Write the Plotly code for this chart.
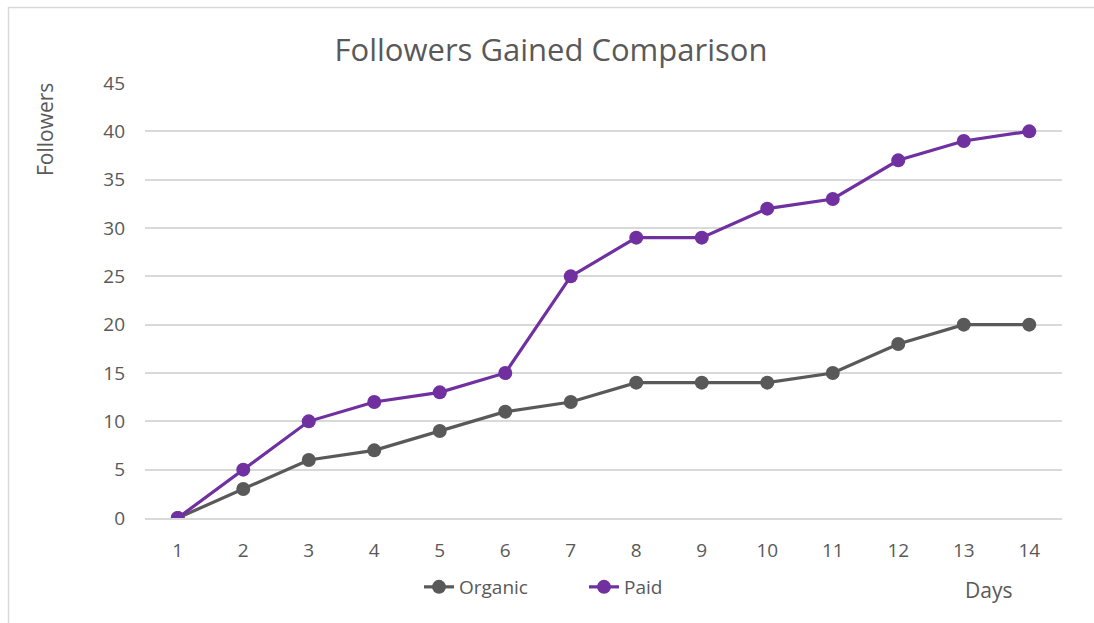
import plotly.graph_objects as go

days = [str(d) for d in range(1, 15)]
organic = [0, 3, 6, 7, 9, 11, 12, 14, 14, 14, 15, 18, 20, 20]
paid = [0, 5, 10, 12, 13, 15, 25, 29, 29, 32, 33, 37, 39, 40]
y_ticks = [0, 5, 10, 15, 20, 25, 30, 35, 40, 45]

W, H = 1094, 623
L, R, T, B = 145, 32, 83, 105
pw, ph = W - L - R, H - T - B

def px_x(x):
    return (x - L) / pw

def px_y(y):
    return (H - B - y) / ph

font = "Open Sans"
txt = "#595959"

fig = go.Figure()
fig.add_trace(go.Scatter(x=days, y=organic, name="Organic", mode="lines+markers",
                         line=dict(color="#595959", width=3.2),
                         marker=dict(color="#595959", size=14)))
fig.add_trace(go.Scatter(x=days, y=paid, name="Paid", mode="lines+markers",
                         line=dict(color="#7030A0", width=3.2),
                         marker=dict(color="#7030A0", size=14)))

fig.update_layout(
    width=W, height=H,
    margin=dict(l=L, r=R, t=T, b=B),
    paper_bgcolor="white", plot_bgcolor="white",
    font=dict(family=font, color=txt, size=19),
    title=dict(text="Followers Gained Comparison", x=px_x(551), xref="paper",
               xanchor="center", y=1 - 50 / H, yanchor="middle",
               font=dict(size=31, color=txt, family=font)),
    xaxis=dict(type="category", range=[-0.5, 13.5], showgrid=False,
               showline=True, linecolor="#d9d9d9", linewidth=1.5,
               ticks="", ticklabelstandoff=14,
               tickfont=dict(size=19, color=txt), zeroline=False),
    yaxis=dict(range=[0, 45], tickvals=y_ticks, showgrid=True,
               gridcolor="#d9d9d9", gridwidth=1.5, zeroline=False,
               showline=False, ticks="", ticklabelstandoff=19,
               tickfont=dict(size=19, color=txt)),
    showlegend=True,
    legend=dict(orientation="h", x=px_x(584), xanchor="center",
                y=px_y(587), yanchor="middle", font=dict(size=19, color=txt),
                bgcolor="rgba(0,0,0,0)", entrywidth=120, entrywidthmode="pixels"),
    annotations=[
        dict(text="Days", x=px_x(988), y=px_y(590), xref="paper", yref="paper",
             showarrow=False, font=dict(size=21, color=txt),
             xanchor="center", yanchor="middle"),
        dict(text="Followers", x=px_x(45), y=px_y(130), xref="paper", yref="paper",
             showarrow=False, font=dict(size=21, color=txt), textangle=-90,
             xanchor="center", yanchor="middle"),
    ],
    shapes=[dict(type="rect", xref="paper", yref="paper",
                 x0=px_x(8.5), x1=px_x(1100), y0=px_y(640), y1=px_y(7.5),
                 line=dict(color="#d9d9d9", width=1.5), layer="below")],
)

fig.write_html("out.html")
